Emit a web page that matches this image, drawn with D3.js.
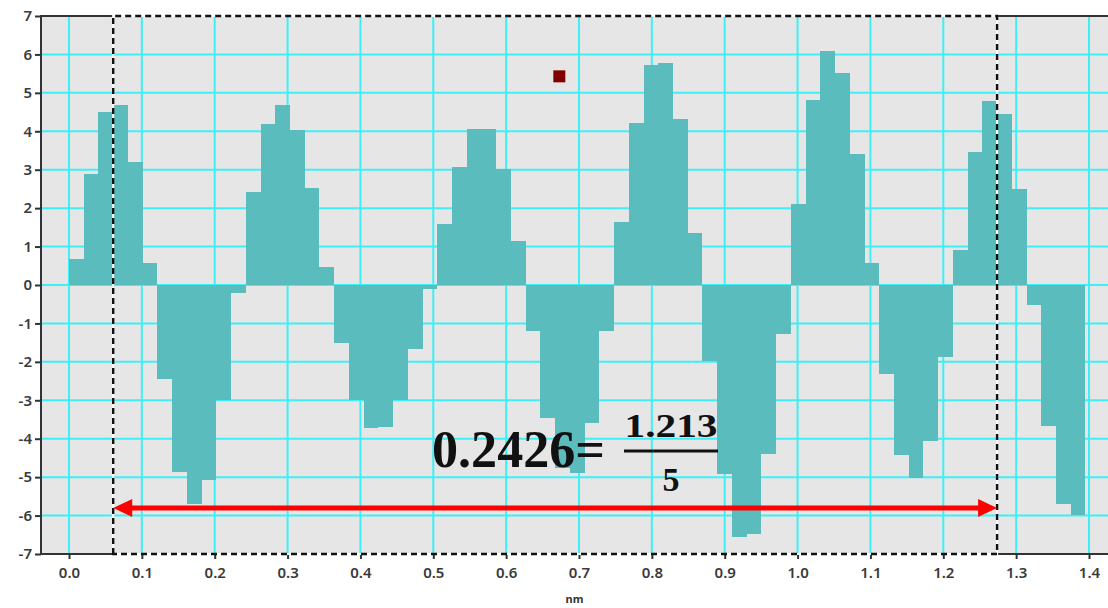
<!DOCTYPE html>
<html>
<head>
<meta charset="utf-8">
<script src="https://cdn.jsdelivr.net/npm/d3@7"></script>
<style>
  body { margin: 0; background: #fff; }
  svg { display: block; }
</style>
</head>
<body>
<svg width="1108" height="608"></svg>
<script>
// profile samples, one every binWidth nm
const binWidth = 0.02022;
const heights = [
    0.67, 2.9, 4.51, 4.69, 3.21, 0.56, -2.44, -4.87, -5.69, -5.07, -2.99, -0.21,
    2.42, 4.2, 4.69, 4.04, 2.52, 0.48, -1.51, -2.99, -3.72, -3.69, -2.99, -1.67,
    -0.1, 1.59, 3.07, 4.06, 4.06, 3.03, 1.14, -1.21, -3.45, -4.77, -4.88, -3.59,
    -1.21, 1.64, 4.22, 5.72, 5.78, 4.31, 1.36, -1.97, -4.91, -6.55, -6.49, -4.41,
    -1.27, 2.12, 4.81, 6.1, 5.51, 3.42, 0.58, -2.31, -4.43, -5.03, -4.06, -1.87,
    0.9, 3.47, 4.78, 4.46, 2.49, -0.53, -3.67, -5.71, -5.99
];
const xTicks = [0.0, 0.1, 0.2, 0.3, 0.4, 0.5, 0.6, 0.7, 0.8, 0.9, 1.0, 1.1, 1.2, 1.3, 1.4];
const yTicks = [-7, -6, -5, -4, -3, -2, -1, 0, 1, 2, 3, 4, 5, 6, 7];
const xLabel = "nm";

// five periods marked between sample 3 and sample 63
const spanFrom = 3 * binWidth;
const spanTo = 63 * binWidth;
const arrowY = -5.8;
const marker = { x: 0.673, y: 5.43 };
const formulaLeft = "0.2426=";
const formulaTop = "1.213";
const formulaBottom = "5";

function drawChart () {
    const svg = d3.select("svg");
    const left = 41, right = 1108, top = 16, bottom = 554;

    const x = d3.scaleLinear().domain([0, 1.4]).range([69, 1089]);
    const y = d3.scaleLinear().domain([-7, 7]).range([bottom, top]);

    svg.append("rect")
        .attr("x", left).attr("y", top)
        .attr("width", right - left).attr("height", bottom - top)
        .attr("fill", "#e6e6e6");

    // grid
    const grid = svg.append("g").attr("stroke", "#3ef0f6").attr("stroke-width", 2);
    grid.selectAll(".vg").data(xTicks).enter().append("line")
        .attr("x1", d => x(d)).attr("x2", d => x(d))
        .attr("y1", top).attr("y2", bottom);
    grid.selectAll(".hg").data(yTicks).enter().append("line")
        .attr("x1", left).attr("x2", right)
        .attr("y1", d => y(d)).attr("y2", d => y(d));

    // bars, snapped to whole pixels so neighbours meet without seams
    const edge = i => Math.round(x(i * binWidth));
    svg.append("g").attr("shape-rendering", "crispEdges")
        .selectAll("rect")
        .data(heights)
        .enter().append("rect")
        .attr("x", (d, i) => edge(i))
        .attr("width", (d, i) => edge(i + 1) - edge(i))
        .attr("y", d => Math.round(y(Math.max(0, d))))
        .attr("height", d => Math.round(Math.abs(y(d) - y(0))))
        .attr("fill", "#5bbcbe");

    // axes
    const yAxis = d3.axisLeft(y).tickValues(yTicks).tickSize(6).tickPadding(3)
        .tickFormat(d => String(d));
    const xAxis = d3.axisBottom(x).tickValues(xTicks).tickSize(5).tickPadding(8)
        .tickFormat(d3.format(".1f"));

    const gy = svg.append("g").attr("transform", "translate(" + left + ",0)").call(yAxis);
    const gx = svg.append("g").attr("transform", "translate(0," + bottom + ")").call(xAxis);
    [gx, gy].forEach(g => {
        g.select(".domain").remove();
        g.selectAll(".tick line").attr("stroke", "#333").attr("stroke-width", 2);
        g.selectAll("text")
            .attr("fill", "#3a3a3a")
            .style("font-family", "'Noto Sans', sans-serif")
            .style("font-size", "15px")
            .style("font-weight", "600");
    });

    svg.append("path")
        .attr("d", "M" + right + "," + top + "H" + left + "V" + bottom + "H" + right)
        .attr("fill", "none").attr("stroke", "#333").attr("stroke-width", 2);

    svg.append("text")
        .attr("x", (left + right) / 2).attr("y", 603)
        .attr("text-anchor", "middle")
        .style("font-family", "'Noto Sans', sans-serif")
        .style("font-size", "11px").style("font-weight", "700")
        .attr("fill", "#333")
        .text(xLabel);

    // dashed selection box
    const bx0 = x(spanFrom), bx1 = x(spanTo);
    const boxPath = "M" + bx0 + "," + bottom + "V" + top + "H" + bx1 + "V" + bottom + "Z";
    svg.append("path").attr("d", boxPath)
        .attr("fill", "none").attr("stroke", "#fff").attr("stroke-width", 2);
    svg.append("path").attr("d", boxPath)
        .attr("fill", "none").attr("stroke", "#111").attr("stroke-width", 2.4)
        .attr("stroke-dasharray", "6,4");

    // red double arrow
    const ay = y(arrowY);
    const head = 19, half = 9;
    svg.append("line")
        .attr("x1", bx0 + head - 2).attr("x2", bx1 - head + 2)
        .attr("y1", ay).attr("y2", ay)
        .attr("stroke", "#ff0000").attr("stroke-width", 5);
    svg.append("path")
        .attr("d", "M" + bx0 + "," + ay + "L" + (bx0 + head) + "," + (ay - half) +
            "L" + (bx0 + head) + "," + (ay + half) + "Z")
        .attr("fill", "#ff0000");
    svg.append("path")
        .attr("d", "M" + bx1 + "," + ay + "L" + (bx1 - head) + "," + (ay - half) +
            "L" + (bx1 - head) + "," + (ay + half) + "Z")
        .attr("fill", "#ff0000");

    // formula
    const f = svg.append("g")
        .attr("fill", "#111")
        .style("font-family", "'Liberation Serif', 'Times New Roman', serif")
        .style("font-weight", "700");
    f.append("text")
        .attr("x", 432).attr("y", 467)
        .attr("textLength", 173).attr("lengthAdjust", "spacingAndGlyphs")
        .style("font-size", "52px")
        .text(formulaLeft);
    f.append("text")
        .attr("x", 671).attr("y", 436.5)
        .attr("text-anchor", "middle")
        .attr("textLength", 93).attr("lengthAdjust", "spacingAndGlyphs")
        .style("font-size", "34px")
        .text(formulaTop);
    f.append("line")
        .attr("x1", 624).attr("x2", 718).attr("y1", 451).attr("y2", 451)
        .attr("stroke", "#111").attr("stroke-width", 3);
    f.append("text")
        .attr("x", 671).attr("y", 490.5)
        .attr("text-anchor", "middle")
        .style("font-size", "34px")
        .text(formulaBottom);

    // cursor marker
    svg.append("rect")
        .attr("x", x(marker.x) - 6).attr("y", y(marker.y) - 6)
        .attr("width", 12).attr("height", 12)
        .attr("fill", "#800000");
}

drawChart();
</script>
</body>
</html>
